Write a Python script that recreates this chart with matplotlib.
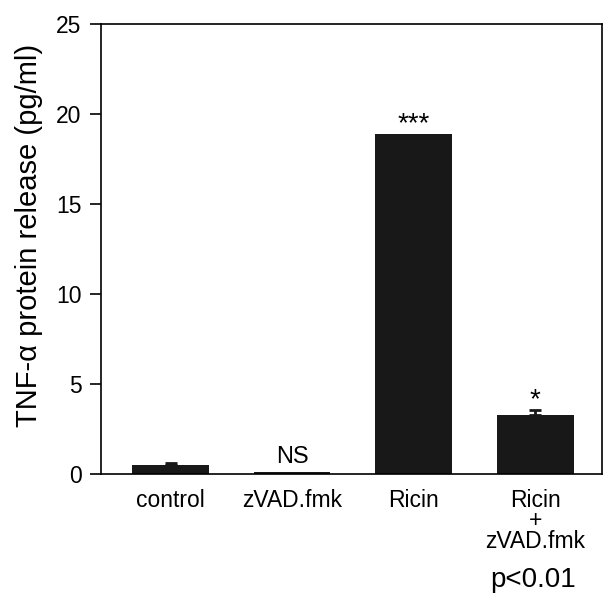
import numpy as np
import matplotlib.pyplot as plt

plt.rcParams['font.family'] = ['Liberation Sans', 'DejaVu Sans']

groups = ['control', 'zVAD.fmk', 'Ricin', 'Ricin\n+\nzVAD.fmk']
values = [0.5, 0.12, 18.9, 3.25]
errors = [0.1, 0.0, 0.0, 0.3]
marks = ['', 'NS', '***', '*']

fig = plt.figure(figsize=(6.12, 6.02), dpi=100)
ax = fig.add_axes([0.165, 0.213, 0.819, 0.747])

x = np.arange(len(groups))
ax.bar(x, values, width=0.63, color='#181818')
has_err = np.array(errors) > 0
ax.errorbar(x[has_err], np.array(values)[has_err],
            yerr=[np.zeros(has_err.sum()), np.array(errors)[has_err]],
            fmt='none', ecolor='#181818', elinewidth=2, capsize=4, capthick=2)

# significance marks above the bars
for i, (v, e, m) in enumerate(zip(values, errors, marks)):
    if not m:
        continue
    if m == 'NS':
        ax.annotate(m, (i, v + e), xytext=(0, 6), textcoords='offset points',
                    ha='center', va='baseline', fontsize=17)
    else:
        ax.annotate(m, (i, v + e), xytext=(0, 2), textcoords='offset points',
                    ha='center', va='baseline', fontsize=20)

ax.set_xlim(-0.572, 3.55)
ax.set_ylim(0, 25)
ax.set_yticks(range(0, 26, 5))
ax.set_xticks(x)
ax.set_xticklabels(groups, fontsize=16.5, linespacing=0.85)
ax.tick_params(axis='x', length=0, pad=11)
ax.tick_params(axis='y', length=8, width=1.2, labelsize=16.5, pad=6)
for s in ax.spines.values():
    s.set_linewidth(1.2)
ax.set_ylabel('TNF-α protein release (pg/ml)', fontsize=21)
ax.yaxis.set_label_coords(-0.115, 0.53)

fig.text(533.5 / 612, 1 - 580 / 602, 'p<0.01', ha='center', va='center', fontsize=20)

plt.savefig('out.png', dpi=100)
